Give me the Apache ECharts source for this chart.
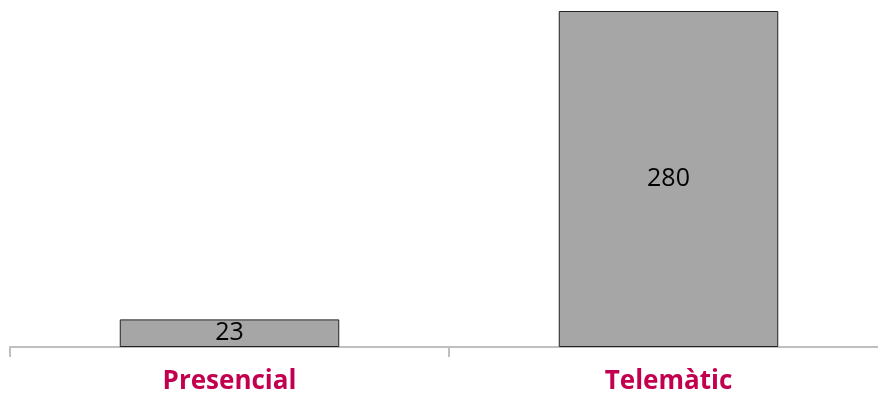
<!DOCTYPE html>
<html><head><meta charset="utf-8">
<script src="https://cdn.jsdelivr.net/npm/echarts@6/dist/echarts.min.js"></script>
<style>html,body{margin:0;padding:0;background:#fff;overflow:hidden}#c{width:888px;height:396px}</style>
</head><body><div id="c"></div>
<script>
const categories = ["Presencial", "Telemàtic"];
const values = [23, 280];
const chart = echarts.init(document.getElementById('c'), null, {renderer:'canvas'});
chart.setOption({
  animation:false,
  grid:{left:10, right:0, top:11, bottom:49, containLabel:false},
  xAxis:{type:'category', data:categories,
    axisLine:{lineStyle:{color:'#bfbfbf', width:2}},
    axisTick:{show:true, length:10, lineStyle:{color:'#bfbfbf', width:2}},
    axisLabel:{color:'#c3004f', fontFamily:'Open Sans', fontWeight:'bold', fontSize:26, margin:22}},
  yAxis:{type:'value', min:0, max:280, show:false, splitLine:{show:false}},
  series:[{type:'bar', data:values, barWidth:'50%',
    itemStyle:{color:'#a6a6a6', borderColor:'#222', borderWidth:1},
    label:{show:true, position:'inside', color:'#000', fontFamily:'Open Sans', fontSize:25}}]
});
</script></body></html>
